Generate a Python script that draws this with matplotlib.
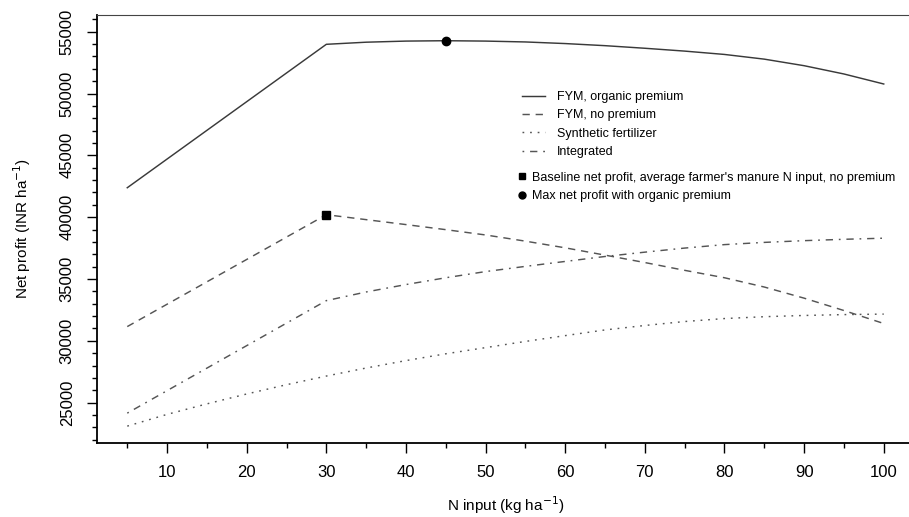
import matplotlib
matplotlib.use("Agg")
import matplotlib.pyplot as plt
from matplotlib.lines import Line2D
from matplotlib.ticker import MultipleLocator

plt.rcParams['font.family'] = ['Liberation Sans', 'DejaVu Sans']

# N input levels (kg/ha)
n_fym = [5, 30, 35, 40, 45, 50, 55, 60, 65, 70, 75, 80, 85, 90, 95, 100]
n_synth = [5, 10, 15, 20, 25, 30, 35, 40, 45, 50, 55, 60, 65, 70, 75, 80, 85, 90, 95, 100]

# net profit (INR/ha)
fym_premium = [42380, 53980, 54150, 54240, 54270, 54240, 54170, 54040, 53870,
               53660, 53430, 53160, 52780, 52250, 51580, 50770]
fym_no_premium = [31150, 40200, 39800, 39400, 38990, 38560, 38060, 37520, 36930,
                  36330, 35700, 35100, 34350, 33450, 32450, 31400]
integrated = [24150, 33250, 33950, 34550, 35100, 35600, 36020, 36420, 36820,
              37170, 37500, 37780, 37960, 38100, 38210, 38300]
synthetic = [23100, 24050, 24900, 25700, 26450, 27150, 27800, 28400, 28950, 29450,
             29950, 30420, 30880, 31240, 31560, 31800, 31950, 32050, 32120, 32160]

baseline_idx = 1   # average farmer's manure N input (30 kg)
max_idx = 4        # max profit with premium (45 kg)

W, H = 909, 517
fig = plt.figure(figsize=(W / 100, H / 100), dpi=100)
ax = fig.add_axes([97 / W, 1 - 442.7 / H, 817 / W, 427.7 / H])

c_solid = '#3a3a3a'
c_dash = '#555555'
lw = 1.05
ax.plot(n_fym, fym_premium, color=c_solid, lw=lw, linestyle='-')
ax.plot(n_fym, fym_no_premium, color=c_dash, lw=lw, linestyle=(0, (5, 4)))
ax.plot(n_synth, synthetic, color=c_dash, lw=lw, linestyle=(0, (1.2, 4)))
ax.plot(n_fym, integrated, color=c_dash, lw=lw, linestyle=(0, (1.2, 4, 5, 4)))

ax.plot(n_fym[baseline_idx], fym_no_premium[baseline_idx], 's', color='black', ms=5.3)
ax.plot(n_fym[max_idx], fym_premium[max_idx], 'o', color='black', ms=6)

ax.set_xlim(1.2, 103.8)
ax.set_ylim(21760, 56350)
ax.set_xticks([10, 20, 30, 40, 50, 60, 70, 80, 90, 100])
ax.xaxis.set_minor_locator(MultipleLocator(5))
ax.set_yticks([25000, 30000, 35000, 40000, 45000, 50000, 55000])
ax.yaxis.set_minor_locator(MultipleLocator(1000))
ax.tick_params(which='major', direction='out', length=7, width=1, labelsize=12, pad=9)
ax.tick_params(which='minor', direction='out', length=3.5, width=1)
for lbl in ax.get_yticklabels():
    lbl.set_rotation(90)
    lbl.set_va('center')

for s in ['left', 'bottom']:
    ax.spines[s].set_linewidth(1.3)
    ax.spines[s].set_color('black')
ax.spines['top'].set_linewidth(0.8)
ax.spines['top'].set_color('#444444')
ax.spines['right'].set_visible(False)

ax.set_xlabel('N input (kg ha$^{-1}$)', fontsize=11)
ax.set_ylabel('Net profit (INR ha$^{-1}$)', fontsize=11)
ax.xaxis.label.set_va('center')
ax.yaxis.label.set_va('center')
ax.xaxis.set_label_coords(0.5, -(505 - 442.7) / 427.7)
ax.yaxis.set_label_coords(-(97 - 22) / 817, 0.5)

# line legend
line_handles = [
    Line2D([], [], color=c_solid, lw=lw, linestyle='-'),
    Line2D([], [], color=c_dash, lw=lw, linestyle=(0, (5, 4))),
    Line2D([], [], color=c_dash, lw=lw, linestyle=(0, (1.2, 4))),
    Line2D([], [], color=c_dash, lw=lw, linestyle=(0, (1.2, 4, 5, 4))),
]
line_labels = ['FYM, organic premium', 'FYM, no premium', 'Synthetic fertilizer', 'Integrated']
leg1 = ax.legend(line_handles, line_labels, loc='upper left',
                 bbox_to_anchor=(521.7 / W, 1 - 91 / H), bbox_transform=fig.transFigure,
                 frameon=False, fontsize=9, handlelength=1.84, handletextpad=0.96,
                 labelspacing=0.51, borderpad=0, borderaxespad=0)
ax.add_artist(leg1)

# point legend
pt_handles = [
    Line2D([], [], color='black', marker='s', ms=4.5, linestyle='none'),
    Line2D([], [], color='black', marker='o', ms=5, linestyle='none'),
]
pt_labels = ["Baseline net profit, average farmer's manure N input, no premium",
             'Max net profit with organic premium']
ax.legend(pt_handles, pt_labels, loc='upper left',
          bbox_to_anchor=(518 / W, 1 - 171.6 / H), bbox_transform=fig.transFigure,
          frameon=False, fontsize=9, handlelength=0.71, handletextpad=0.45,
          labelspacing=0.51, borderpad=0, borderaxespad=0)

fig.savefig('out.png', dpi=100)
